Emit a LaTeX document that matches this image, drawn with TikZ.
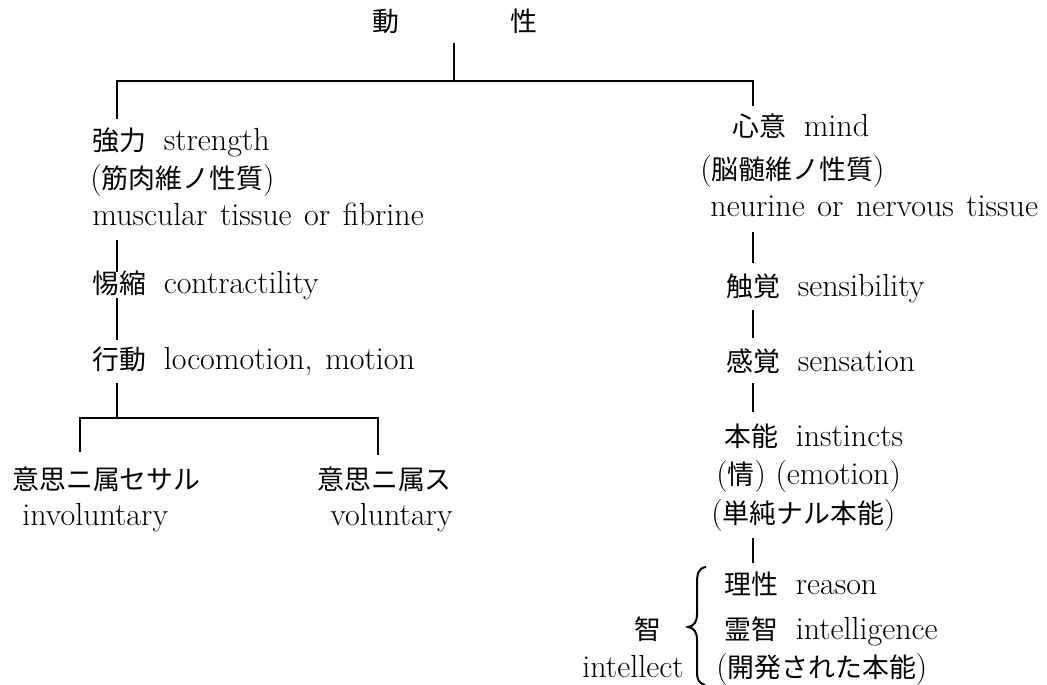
\documentclass[tikz,border=0pt]{standalone}
\usepackage{fontspec}
\setmainfont{Latin Modern Roman}[WordSpace=1.3]
\newfontfamily\cj{Noto Sans CJK JP}[Scale=0.84]
\newcommand\jp[1]{{\cj #1}}
\newcommand\gap{\hspace{.55em}}
\begin{document}
\begin{tikzpicture}[x=0.5pt,y=-0.5pt,
  lbl/.style={inner sep=0pt, anchor=base west, font=\fontsize{16}{19}\selectfont},
  ctr/.style={inner sep=0pt, anchor=base, font=\fontsize{16}{19}\selectfont},
  stem/.style={line width=1.4pt},
  bar/.style={line width=1.1pt},
  brc/.style={line width=1pt}]
\useasboundingbox (0,0) rectangle (1047,684);

% title
\node[ctr] (dou) at (386,32) {\jp{動}};
\node[ctr] (sei) at (524,32) {\jp{性}};

% left column
\node[lbl] (strength) at (92,151) {\jp{強力}\gap strength};
\node[lbl] (kinniku) at (90,189) {(\jp{筋肉維ノ性質})};
\node[lbl] (muscular) at (92,225) {muscular tissue or fibrine};
\node[lbl] (contr) at (92,293) {\jp{惕縮}\gap contractility};
\node[lbl] (loco) at (92,369) {\jp{行動}\gap locomotion, motion};
\node[lbl] (invj) at (12,489) {\jp{意思ニ属セサル}};
\node[lbl] (inv) at (22,525) {involuntary};
\node[lbl] (volj) at (317,489) {\jp{意思ニ属ス}};
\node[lbl] (vol) at (330,525) {voluntary};

% right column
\node[lbl] (mind) at (732,137) {\jp{心意}\gap mind};
\node[lbl] (nouzui) at (700,179) {(\jp{脳髄維ノ性質})};
\node[lbl] (neurine) at (710,216) {neurine or nervous tissue};
\node[lbl] (sensib) at (726,296) {\jp{触覚}\gap sensibility};
\node[lbl] (sensat) at (726,371) {\jp{感覚}\gap sensation};
\node[lbl] (inst) at (724,446) {\jp{本能}\gap instincts};
\node[lbl] (emo) at (716,484) {(\jp{情})\hspace{.3em}(emotion)};
\node[lbl] (tanjun) at (711,523) {(\jp{単純ナル本能})};
\node[lbl] (reason) at (724,594) {\jp{理性}\gap reason};
\node[lbl] (intel) at (724,639) {\jp{霊智}\gap intelligence};
\node[lbl] (kaihatsu) at (716,677) {(\jp{開発された本能})};
\node[ctr] (chi) at (648,639) {\jp{智}};
\node[lbl, anchor=base east] (intellect) at (684,677) {intellect};

% connectors
\coordinate (t0) at (454,43); \coordinate (t1) at (454,81);
\coordinate (L0) at (117,81); \coordinate (L1) at (117,119);
\coordinate (R0) at (753,81); \coordinate (R1) at (753,106);
\draw[stem] (t0) -- (t1);
\draw[bar] (L1) -- (L0) -- (R0) -- (R1);

\coordinate (a0) at (117,240); \coordinate (a1) at (117,272);
\coordinate (b0) at (117,298); \coordinate (b1) at (117,340);
\coordinate (c0) at (117,383); \coordinate (c1) at (117,418);
\coordinate (d0) at (80,452);  \coordinate (d1) at (80,418);
\coordinate (e1) at (378,418); \coordinate (e0) at (378,455);
\draw[stem] (a0) -- (a1);
\draw[stem] (b0) -- (b1);
\draw[stem] (c0) -- (c1);
\draw[bar] (d0) -- (d1) -- (e1) -- (e0);

\coordinate (f0) at (753,232); \coordinate (f1) at (753,263);
\coordinate (g0) at (753,310); \coordinate (g1) at (753,338);
\coordinate (h0) at (753,383); \coordinate (h1) at (753,412);
\coordinate (i0) at (753,538); \coordinate (i1) at (753,563);
\draw[stem] (f0) -- (f1);
\draw[stem] (g0) -- (g1);
\draw[stem] (h0) -- (h1);
\draw[stem] (i0) -- (i1);

% brace
\draw[brc] (706,567) .. controls (698,568) and (697,574) .. (697,584) -- (697,614)
  .. controls (697,622) and (694,626) .. (688,627)
  .. controls (694,628) and (697,632) .. (697,640) -- (697,672)
  .. controls (697,680) and (699,683) .. (705,685);
\end{tikzpicture}
\end{document}
